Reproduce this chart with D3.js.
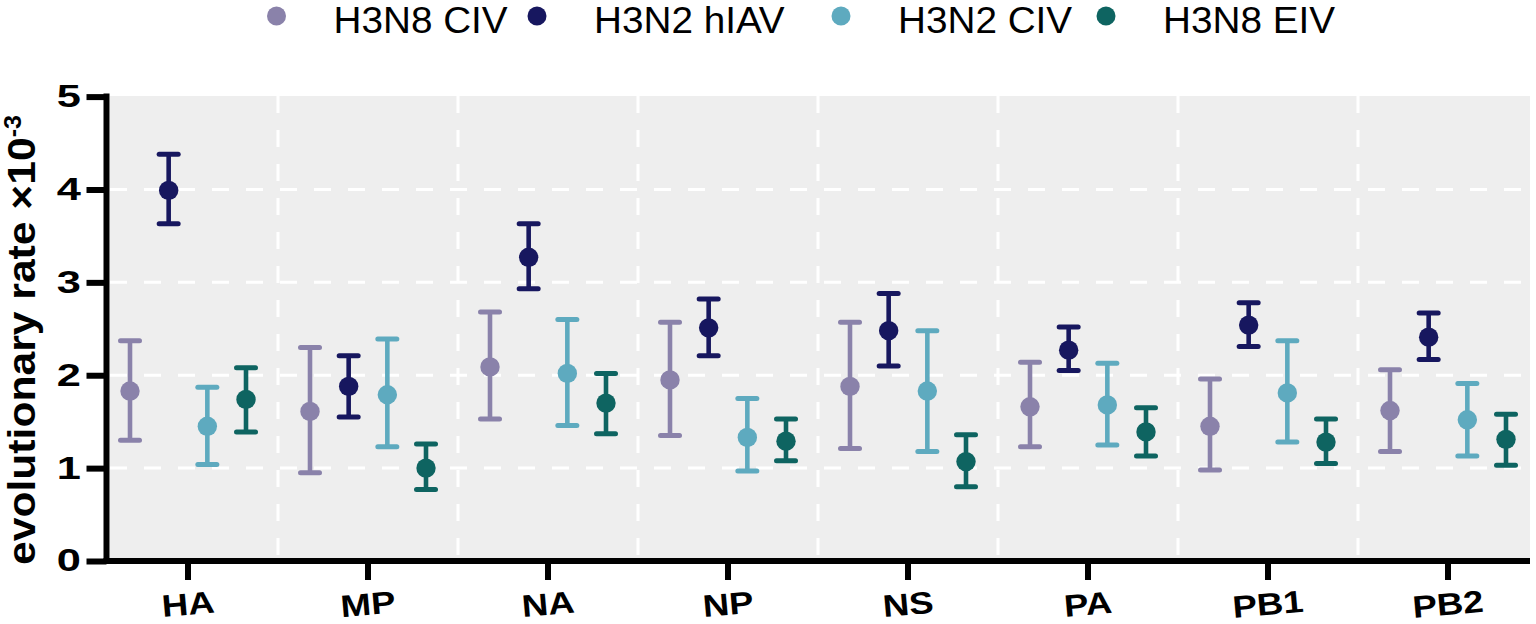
<!DOCTYPE html>
<html>
<head>
<meta charset="utf-8">
<script src="https://cdn.jsdelivr.net/npm/d3@7"></script>
<style>
  html, body { margin: 0; padding: 0; background: #ffffff; }
  svg { display: block; font-family: "Liberation Sans", Arial, sans-serif; }
</style>
</head>
<body>
<svg id="chart" width="1536" height="624"></svg>
<script>
// ---------------- data ----------------
const categories = ["HA", "MP", "NA", "NP", "NS", "PA", "PB1", "PB2"];
const seriesNames = ["H3N8 CIV", "H3N2 hIAV", "H3N2 CIV", "H3N8 EIV"];
const seriesColors = ["#8a82aa", "#17175f", "#5eaabf", "#0e6461"];
const yTicks = [0, 1, 2, 3, 4, 5];

const h3n8civMean = [1.83, 1.61, 2.09, 1.95, 1.88, 1.66, 1.45, 1.62];
const h3n8civLow  = [1.30, 0.95, 1.53, 1.35, 1.21, 1.23, 0.98, 1.18];
const h3n8civHigh = [2.37, 2.30, 2.68, 2.57, 2.57, 2.14, 1.96, 2.06];

const h3n2hiavMean = [3.99, 1.88, 3.27, 2.51, 2.48, 2.27, 2.54, 2.41];
const h3n2hiavLow  = [3.63, 1.55, 2.93, 2.21, 2.10, 2.05, 2.31, 2.17];
const h3n2hiavHigh = [4.38, 2.21, 3.63, 2.82, 2.88, 2.52, 2.78, 2.67];

const h3n2civMean = [1.45, 1.79, 2.02, 1.33, 1.83, 1.68, 1.81, 1.52];
const h3n2civLow  = [1.04, 1.23, 1.46, 0.97, 1.18, 1.25, 1.28, 1.13];
const h3n2civHigh = [1.87, 2.39, 2.60, 1.75, 2.48, 2.13, 2.37, 1.91];

const h3n8eivMean = [1.74, 1.00, 1.70, 1.29, 1.07, 1.39, 1.28, 1.31];
const h3n8eivLow  = [1.39, 0.77, 1.37, 1.08, 0.80, 1.13, 1.05, 1.03];
const h3n8eivHigh = [2.08, 1.26, 2.02, 1.53, 1.36, 1.65, 1.53, 1.58];

const seriesMeans = [h3n8civMean, h3n2hiavMean, h3n2civMean, h3n8eivMean];
const seriesLows  = [h3n8civLow, h3n2hiavLow, h3n2civLow, h3n8eivLow];
const seriesHighs = [h3n8civHigh, h3n2hiavHigh, h3n2civHigh, h3n8eivHigh];

// ---------------- layout ----------------
const svg = d3.select("#chart");
const plot = { left: 110, right: 1530, top: 96, bottom: 558 };
const axisX = 106.5, axisY = 561;

const x = d3.scaleBand().domain(categories).range([98, 1538]).padding(0);
const xOff = d3.scalePoint().domain(seriesNames).range([-58, 58]);
const y = d3.scaleLinear().domain([0, 5]).range([561, 96.6]);

// background
svg.append("rect")
  .attr("x", plot.left).attr("y", plot.top)
  .attr("width", plot.right - plot.left).attr("height", plot.bottom - plot.top)
  .attr("fill", "#eeeeee");

// horizontal grid
svg.append("g").selectAll("line")
  .data(yTicks.filter(d => d > 0 && d < 5))
  .join("line")
  .attr("x1", plot.left).attr("x2", plot.right)
  .attr("y1", d => y(d)).attr("y2", d => y(d))
  .attr("stroke", "#ffffff").attr("stroke-width", 3)
  .attr("stroke-dasharray", "17,17");

// vertical separators
svg.append("g").selectAll("line")
  .data(categories.slice(0, -1))
  .join("line")
  .attr("x1", d => x(d) + x.bandwidth()).attr("x2", d => x(d) + x.bandwidth())
  .attr("y1", plot.top).attr("y2", plot.bottom)
  .attr("stroke", "#ffffff").attr("stroke-width", 3)
  .attr("stroke-dasharray", "17,17");

// points + error bars
const pts = [];
seriesNames.forEach((s, si) => {
  categories.forEach((c, ci) => {
    pts.push({ s, si, c, mean: seriesMeans[si][ci], lo: seriesLows[si][ci], hi: seriesHighs[si][ci] });
  });
});

const capHalf = 9.5;
const gPts = svg.append("g");
const grp = gPts.selectAll("g").data(pts).join("g")
  .attr("transform", d => `translate(${x(d.c) + x.bandwidth() / 2 + xOff(d.s)},0)`)
  .attr("stroke", d => seriesColors[d.si])
  .attr("fill", d => seriesColors[d.si]);

grp.append("line")
  .attr("x1", 0).attr("x2", 0)
  .attr("y1", d => y(d.lo)).attr("y2", d => y(d.hi))
  .attr("stroke-width", 4.6);
grp.append("line")
  .attr("x1", -capHalf).attr("x2", capHalf)
  .attr("y1", d => y(d.hi)).attr("y2", d => y(d.hi))
  .attr("stroke-width", 5).attr("stroke-linecap", "round");
grp.append("line")
  .attr("x1", -capHalf).attr("x2", capHalf)
  .attr("y1", d => y(d.lo)).attr("y2", d => y(d.lo))
  .attr("stroke-width", 5).attr("stroke-linecap", "round");
grp.append("circle")
  .attr("cx", 0).attr("cy", d => y(d.mean)).attr("r", 9.7)
  .attr("stroke", "none");

// y axis
const digitStretch = 1.4;
const yAxis = svg.append("g")
  .attr("transform", `translate(${axisX},0)`)
  .call(d3.axisLeft(y).tickValues(yTicks).tickSize(20).tickSizeOuter(0).tickPadding(6).tickFormat(d3.format("d")));
yAxis.select(".domain").remove();
yAxis.selectAll(".tick line").attr("stroke", "#000").attr("stroke-width", 6);
yAxis.selectAll(".tick text")
  .attr("font-size", 31).attr("font-weight", "bold").attr("fill", "#000")
  .attr("font-family", "Liberation Sans, Arial, sans-serif")
  .attr("x", -25.5 / digitStretch)
  .attr("transform", `scale(${digitStretch},1)`);
svg.append("line")
  .attr("x1", axisX).attr("x2", axisX)
  .attr("y1", y(5) - 3).attr("y2", axisY + 3)
  .attr("stroke", "#000").attr("stroke-width", 6);

// x axis
const xAxis = svg.append("g")
  .attr("transform", `translate(0,${axisY})`)
  .call(d3.axisBottom(x).tickSize(19).tickSizeOuter(0).tickPadding(8));
xAxis.select(".domain").remove();
xAxis.selectAll(".tick line").attr("stroke", "#000").attr("stroke-width", 6);
xAxis.selectAll(".tick text")
  .attr("font-size", 31).attr("font-weight", "bold").attr("fill", "#000")
  .attr("font-family", "Liberation Sans, Arial, sans-serif")
  .attr("y", 0).attr("dy", "0.35em")
  .attr("transform", "translate(0,43) rotate(-5) scale(1.18,1)");
svg.append("line")
  .attr("x1", axisX - 3).attr("x2", plot.right)
  .attr("y1", axisY).attr("y2", axisY)
  .attr("stroke", "#000").attr("stroke-width", 6);

// y label
const yl = svg.append("text")
  .attr("transform", "translate(35,340) rotate(-90)")
  .attr("text-anchor", "middle")
  .attr("font-size", 39).attr("font-weight", "bold").attr("fill", "#000")
  .attr("textLength", 450).attr("lengthAdjust", "spacingAndGlyphs");
yl.append("tspan").text("evolutionary rate ×10");
yl.append("tspan").attr("dy", -14).attr("font-size", 23).text("-3");

// legend
const legendX = [276.5, 537, 841, 1106];
const lg = svg.append("g").selectAll("g").data(seriesNames).join("g")
  .attr("transform", (d, i) => `translate(${legendX[i]},16)`);
lg.append("circle").attr("r", 9.5).attr("fill", (d, i) => seriesColors[i]);
lg.append("text")
  .attr("transform", "translate(57,16.5) scale(1.06,1)")
  .attr("font-size", 36.5).attr("fill", "#000").text(d => d);
</script>
</body>
</html>
